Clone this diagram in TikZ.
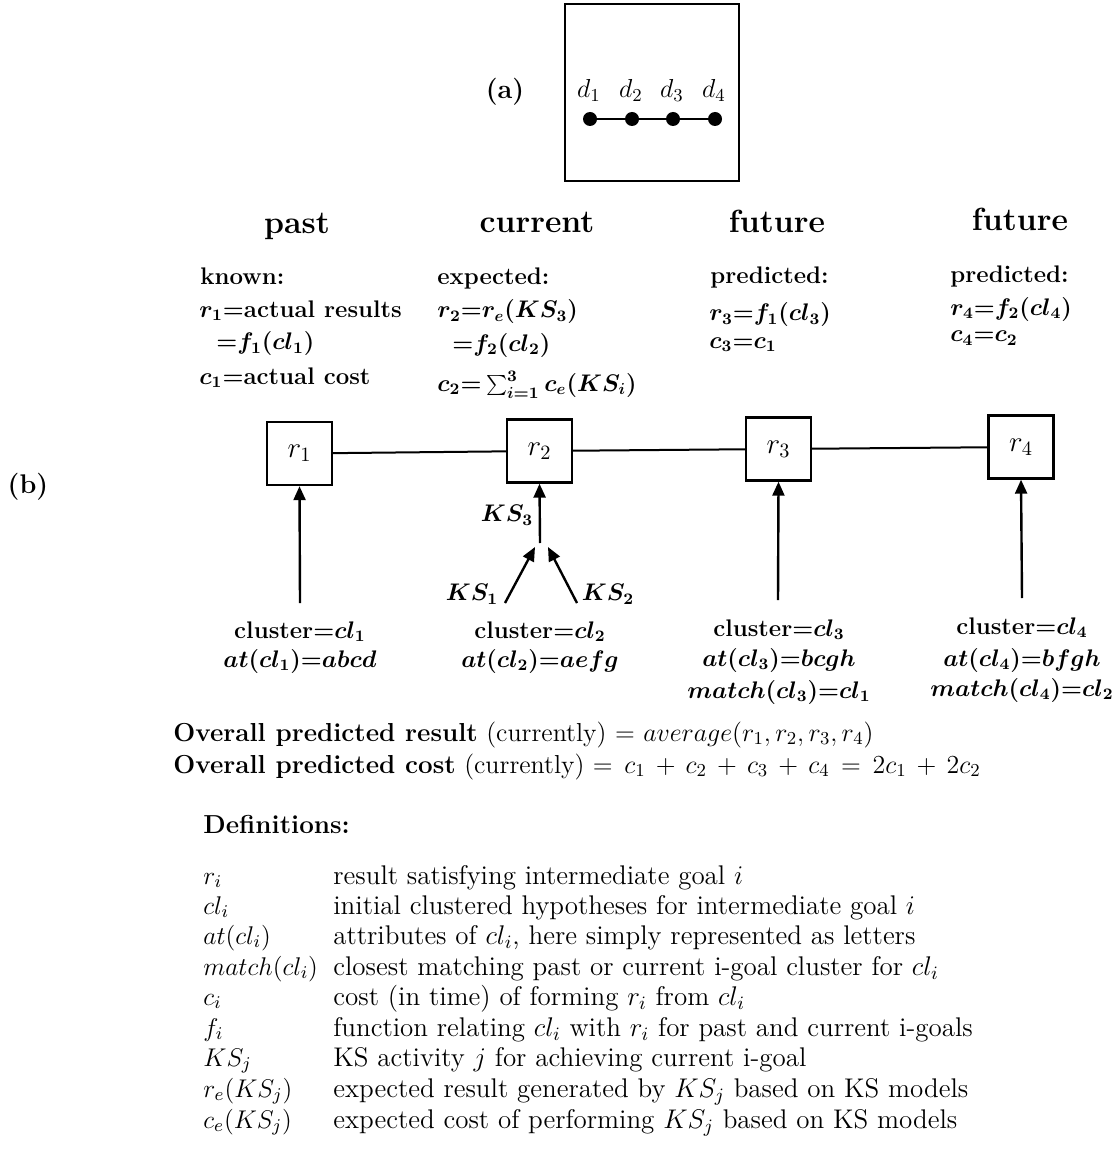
\RequirePackage{fix-cm}
\documentclass[tikz,border=0pt]{standalone}
\usetikzlibrary{arrows.meta,calc}
\begin{document}
\begin{tikzpicture}[x=0.5pt,y=-0.5pt,
  rbox/.style={draw,line width=1.2pt,minimum width=32.5pt,minimum height=31.5pt,inner sep=0pt,font=\fontsize{14.5}{17}\selectfont},
  link/.style={line width=1pt},
  feed/.style={line width=1.2pt,-{Triangle[length=7pt,width=6pt]}},
  head/.style={font=\fontsize{16}{19}\selectfont\bfseries,anchor=base,inner sep=0pt},
  lbl/.style={font=\fontsize{12}{14}\selectfont\bfseries\boldmath,anchor=base west,inner sep=0pt},
  clbl/.style={font=\fontsize{12}{14}\selectfont\bfseries\boldmath,anchor=base,inner sep=0pt},
  kslbl/.style={font=\fontsize{12}{14}\selectfont\boldmath,inner sep=0pt},
  txt/.style={font=\fontsize{13.5}{16}\selectfont,anchor=base west,inner sep=0pt},
  symtxt/.style={font=\fontsize{12.8}{15}\selectfont,anchor=base west,inner sep=0pt},
  dot/.style={circle,fill,inner sep=0pt,minimum size=7pt},
]
\useasboundingbox (0,0) rectangle (1113,1160);

% ---- part (a): the four data points ----
\node[font=\fontsize{13.5}{16}\selectfont\bfseries] (alabel) at (505,92) {(a)};
\node[draw,line width=1pt,minimum width=87pt,minimum height=88.5pt,inner sep=0pt] (aframe) at (652,92.5) {};
\node[dot] (d1) at (590,119) {};
\node[dot] (d2) at (632,119) {};
\node[dot] (d3) at (673,119) {};
\node[dot] (d4) at (715,119) {};
\draw[link] (d1) -- (d2) -- (d3) -- (d4);
\foreach \i in {1,...,4}
  \node[font=\fontsize{13}{15}\selectfont,anchor=base] (dl\i) at ($(d\i)+(-1,-21)$) {$d_\i$};

% ---- part (b) ----
\node[font=\fontsize{13.5}{16}\selectfont\bfseries] (blabel) at (28,487) {(b)};

\node[head] (hpast) at (297,234) {past};
\node[head] (hcur)  at (537,233) {current};
\node[head] (hfut1) at (777,233) {future};
\node[head] (hfut2) at (1020,231) {future};

% column texts
\node[lbl] (k0) at (200,285) {known:};
\node[lbl] (k1) at (199,317) {$r_1{=}$actual results};
\node[lbl] (k2) at (216,350) {${=}f_1(cl_1)$};
\node[lbl] (k3) at (199,384) {$c_1{=}$actual cost};

\node[lbl] (e0) at (437,285) {expected:};
\node[lbl] (e1) at (437,318) {$r_2{=}r_e(KS_3)$};
\node[lbl] (e2) at (452,351) {${=}f_2(cl_2)$};
\node[lbl] (e3) at (437,391) {$c_2{=}\sum_{i=1}^{3} c_e(KS_i)$};

\node[lbl] (p0) at (710,284) {predicted:};
\node[lbl] (p1) at (709,321) {$r_3{=}f_1(cl_3)$};
\node[lbl] (p2) at (709,348) {$c_3{=}c_1$};

\node[lbl] (q0) at (950,283) {predicted:};
\node[lbl] (q1) at (950,315) {$r_4{=}f_2(cl_4)$};
\node[lbl] (q2) at (950,342) {$c_4{=}c_2$};

% result boxes and the time line
\node[rbox] (r1) at (299.5,453.5) {$r_1$};
\node[rbox] (r2) at (539.5,451) {$r_2$};
\node[rbox] (r3) at (778.5,449) {$r_3$};
\node[rbox] (r4) at (1021,447) {$r_4$};
\draw[link] (r1) -- (r2);
\draw[link] (r2) -- (r3);
\draw[link] (r3) -- (r4);

% cluster inputs
\coordinate (s1) at (300,603);
\coordinate (s2) at (540,543);
\coordinate (s3) at (778,600);
\coordinate (s4) at (1022,598);
\coordinate (ks1a) at (505,603);
\coordinate (ks1b) at (535,547);
\coordinate (ks2a) at (577,603);
\coordinate (ks2b) at (548,547);
\draw[feed] (s1) -- (r1.south);
\draw[feed] (s2) -- (r2.south);
\draw[feed] (s3) -- (r3.south);
\draw[feed] (s4) -- (r4.south);
\draw[feed] (ks1a) -- (ks1b);
\draw[feed] (ks2a) -- (ks2b);
\node[kslbl] (ks3) at (507,515) {$KS_3$};
\node[kslbl] (ks1) at (472,594) {$KS_1$};
\node[kslbl] (ks2) at (608,594) {$KS_2$};

\node[clbl] (c1a) at (300,638) {cluster${=}cl_1$};
\node[clbl] (c1b) at (300,667) {$at(cl_1){=}abcd$};
\node[clbl] (c2a) at (540,638) {cluster${=}cl_2$};
\node[clbl] (c2b) at (540,667) {$at(cl_2){=}aefg$};
\node[clbl] (c3a) at (779,636) {cluster${=}cl_3$};
\node[clbl] (c3b) at (779,666) {$at(cl_3){=}bcgh$};
\node[clbl] (c3c) at (779,698) {$match(cl_3){=}cl_1$};
\node[clbl] (c4a) at (1022,634) {cluster${=}cl_4$};
\node[clbl] (c4b) at (1022,666) {$at(cl_4){=}bfgh$};
\node[clbl] (c4c) at (1022,696) {$match(cl_4){=}cl_2$};

% overall predictions
\node[txt,font=\fontsize{13}{15}\selectfont] (ov1) at (173,741) {\textbf{Overall predicted result} (currently) $=$ $average(r_1,r_2,r_3,r_4)$};
\node[txt,font=\fontsize{13}{15}\selectfont] (ov2) at (173,773) {\medmuskip=7mu\thickmuskip=8mu\textbf{Overall predicted cost} (currently) $= c_1+c_2+c_3+c_4 = 2c_1+2c_2$};

% definitions
\node[txt,font=\fontsize{13}{15}\selectfont\bfseries] (defh) at (203,833) {Definitions:};
\foreach \y/\sym/\desc [count=\n] in {
  884/{$r_i$}/{result satisfying intermediate goal $i$},
  914/{$cl_i$}/{initial clustered hypotheses for intermediate goal $i$},
  944/{$at(cl_i)$}/{attributes of $cl_i$, here simply represented as letters},
  975/{$match(cl_i)$}/{closest matching past or current i-goal cluster for $cl_i$},
  1005/{$c_i$}/{cost (in time) of forming $r_i$ from $cl_i$},
  1036/{$f_i$}/{function relating $cl_i$ with $r_i$ for past and current i-goals},
  1066/{$KS_j$}/{KS activity $j$ for achieving current i-goal},
  1097/{$r_e(KS_j)$}/{expected result generated by $KS_j$ based on KS models},
  1128/{$c_e(KS_j)$}/{expected cost of performing $KS_j$ based on KS models}} {
  \node[symtxt] (sym\n) at (203,\y) {\sym};
  \node[txt] (def\n) at (333,\y) {\desc};
}
\end{tikzpicture}
\end{document}
